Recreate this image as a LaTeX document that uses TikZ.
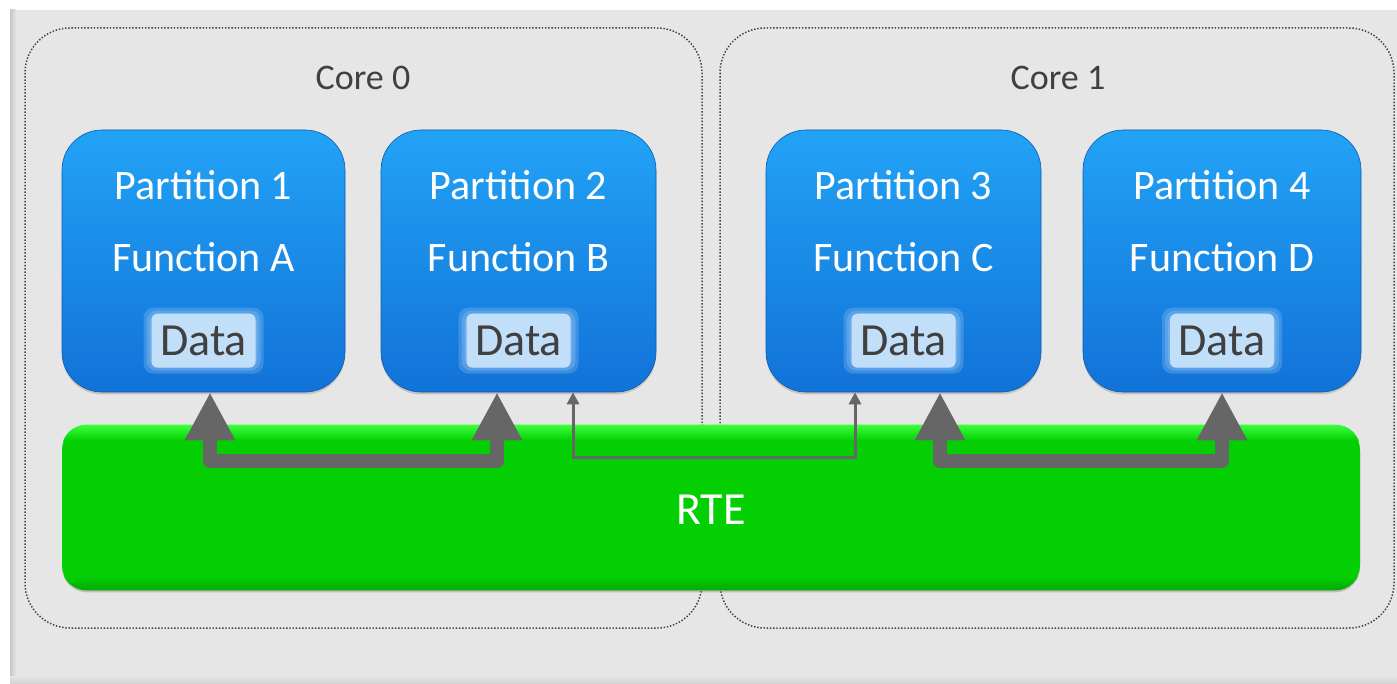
\documentclass[tikz,border=0pt]{standalone}
\usepackage{fontspec}
\setmainfont{Carlito}
\usetikzlibrary{arrows.meta,calc,shadows}
\definecolor{panel}{HTML}{E6E6E6}
\definecolor{coretext}{HTML}{404040}
\definecolor{blueT}{HTML}{22A3F6}
\definecolor{blueB}{HTML}{1272D8}
\definecolor{greenM}{HTML}{03CF03}
\definecolor{greenT}{HTML}{3CFF3C}
\definecolor{greenB}{HTML}{02A802}
\definecolor{arrowgray}{HTML}{666666}
\definecolor{datafill}{HTML}{C2DFFA}
\begin{document}
\begin{tikzpicture}[x=0.5pt,y=-0.5pt,
  corebox/.style={draw=black!75, dash pattern=on 0.7pt off 0.9pt, line width=0.75pt, rounded corners=22.5pt},
  corelabel/.style={text=coretext, font=\fontsize{18}{20}\selectfont, inner sep=0pt},
  part/.style={rounded corners=20pt, top color=blueT, bottom color=blueB, draw=blueB!80!black, line width=0.3pt,
    drop shadow={shadow xshift=0pt, shadow yshift=-1.2pt, opacity=0.35}, minimum height=131pt, inner sep=0pt},
  parttext/.style={text=white, font=\fontsize{21}{24}\selectfont, inner sep=0pt},
  databox/.style={fill=datafill, minimum width=52pt, minimum height=27pt, inner sep=0pt, rounded corners=3pt,
    text=coretext, font=\fontsize{23}{26}\selectfont},
  glow/.style={fill=datafill, opacity=0.22, rounded corners=5pt},
  rte/.style={rounded corners=12.5pt, fill=greenM, minimum width=649pt, minimum height=82.5pt, inner sep=0pt,
    drop shadow={shadow xshift=0pt, shadow yshift=-1.2pt, opacity=0.4}},
  bigarrow/.style={draw=arrowgray, line width=7pt, line join=round, {Triangle[length=24pt,width=23.5pt]}-{Triangle[length=24pt,width=23.5pt]}},
  thinarrow/.style={draw=arrowgray, line width=1.5pt, {Triangle[length=6pt,width=6pt]}-{Triangle[length=6pt,width=6pt]}}
]
\useasboundingbox (0,0) rectangle (1397,684);
\fill[white] (0,0) rectangle (1397,684);
\fill[panel] (10,10) rectangle (1397,684);
\shade[left color=black!22, right color=panel] (10,10) rectangle (16,684);
\shade[top color=panel, bottom color=black!18] (10,676) rectangle (1397,684);

% cores
\draw[corebox] (25,28) rectangle (702,628);
\draw[corebox] (720,28) rectangle (1394,628);
\node[corelabel] (c0) at (363,78) {Core 0};
\node[corelabel] (c1) at (1058,78) {Core 1};

% RTE
\node[rte] (rte) at (711,507.5) {};
\begin{scope}
  \clip[rounded corners=12.5pt] (rte.north west) rectangle (rte.south east);
  \shade[top color=greenT, bottom color=greenM] ($(rte.north west)+(0,0)$) rectangle ($(rte.north east)+(0,16)$);
  \shade[top color=greenM, bottom color=greenB] ($(rte.south west)+(0,-14)$) rectangle (rte.south east);
\end{scope}
\node[text=white, font=\fontsize{23}{26}\selectfont, inner sep=0pt] (rtel) at (711,510) {RTE};

% partitions
\node[part, minimum width=141.5pt] (p1) at (203.5,261) {};
\node[part, minimum width=137.5pt] (p2) at (518.5,261) {};
\node[part, minimum width=137.5pt] (p3) at (903.5,261) {};
\node[part, minimum width=139pt] (p4) at (1222,261) {};

\foreach \p/\n/\f in {p1/1/A, p2/2/B, p3/3/C, p4/4/D}{
  \node[parttext] (\p t) at ($(\p.north)+(0,55)$) {Partition \n};
  \node[parttext] (\p f) at ($(\p.north)+(0,127)$) {Function \f};
  \fill[glow] ($(\p.north)+(-60,178)$) rectangle ($(\p.north)+(60,244)$);
  \fill[glow] ($(\p.north)+(-57,181)$) rectangle ($(\p.north)+(57,241)$);
  \fill[glow] ($(\p.north)+(-54,184)$) rectangle ($(\p.north)+(54,238)$);
  \node[databox] (\p d) at ($(\p.north)+(0,211)$) {Data};
}

% arrows
\draw[bigarrow] ($(p1.south)+(6.5,0)$) |- ($(p2.south)+(-21.5,69)$) -- ($(p2.south)+(-21.5,0)$);
\draw[bigarrow] ($(p3.south)+(36.5,0)$) |- ($(p4.south)+(0,69)$) -- (p4.south);
\draw[thinarrow] ($(p2.south)+(54.5,0)$) |- ($(p3.south)+(-48.5,65)$) -- ($(p3.south)+(-48.5,0)$);
\end{tikzpicture}
\end{document}
